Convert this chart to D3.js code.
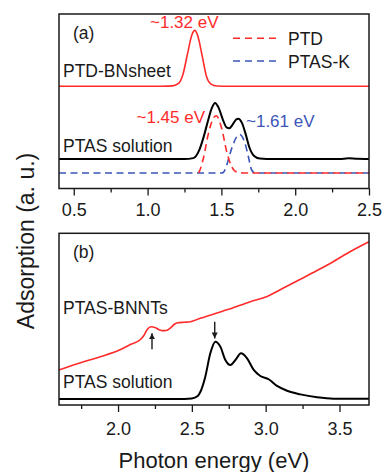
<!DOCTYPE html>
<html>
<head>
<meta charset="utf-8">
<script src="https://cdnjs.cloudflare.com/ajax/libs/d3/7.8.5/d3.min.js"></script>
<style>
  body { margin: 0; background: #fff; }
  svg { font-family: "Liberation Sans", Arial, Helvetica, sans-serif; }
</style>
</head>
<body>
<div id="chart"></div>
<script>
// ---- panel (a): photon energy (eV) vs absorption (a.u., offset traces)
var ptdBNsheet = [[0.4,0.586],[1.10,0.586],[1.17,0.588],[1.21,0.602],[1.24,0.655],[1.27,0.77],[1.30,0.88],
  [1.32,0.906],[1.34,0.875],[1.37,0.76],[1.40,0.64],[1.43,0.598],[1.47,0.587],[1.55,0.586],[2.5,0.586]];
var ptasSolutionA = [[0.4,0.169],[1.25,0.169],[1.31,0.174],[1.35,0.22],[1.378,0.29],[1.41,0.39],[1.435,0.46],
  [1.457,0.49],[1.48,0.465],[1.51,0.395],[1.535,0.35],[1.554,0.345],[1.575,0.365],[1.60,0.395],[1.615,0.40],
  [1.64,0.375],[1.665,0.31],[1.69,0.235],[1.72,0.188],[1.76,0.172],[1.85,0.169],[2.30,0.169],[2.36,0.173],
  [2.42,0.17],[2.5,0.169]];
var ptdFit = [[1.345,0.089],[1.355,0.106],[1.378,0.173],[1.41,0.307],[1.445,0.402],[1.465,0.417],[1.502,0.345],
  [1.536,0.211],[1.57,0.125],[1.604,0.094],[1.65,0.089],[2.5,0.089]];
var ptasKFit = [[0.4,0.089],[1.50,0.089],[1.513,0.092],[1.536,0.135],[1.57,0.23],[1.604,0.297],[1.622,0.31],
  [1.66,0.259],[1.683,0.182],[1.705,0.106],[1.728,0.089],[2.5,0.089]];
var ticksA = [0.5, 1.0, 1.5, 2.0, 2.5];
var minorTicksA = [0.75, 1.25, 1.75, 2.25];

// ---- panel (b)
var ptasBNNTs = [[1.60,0.204],[1.767,0.252],[1.88,0.281],[2.01,0.320],[2.083,0.352],[2.15,0.38],[2.175,0.405],
  [2.198,0.44],[2.223,0.456],[2.25,0.452],[2.275,0.44],[2.30,0.433],[2.325,0.434],[2.354,0.448],[2.38,0.469],
  [2.404,0.479],[2.45,0.482],[2.49,0.485],[2.557,0.505],[2.664,0.534],[2.749,0.557],[2.896,0.602],[3.01,0.632],
  [3.12,0.681],[3.235,0.732],[3.348,0.783],[3.46,0.836],[3.574,0.894],[3.70,0.951]];
var ptasSolutionB = [[1.60,0.035],[2.40,0.035],[2.50,0.038],[2.54,0.052],[2.558,0.077],[2.591,0.165],[2.625,0.301],
  [2.659,0.369],[2.693,0.34],[2.727,0.262],[2.761,0.233],[2.795,0.262],[2.833,0.301],[2.874,0.272],[2.919,0.204],
  [2.964,0.169],[3.02,0.15],[3.077,0.111],[3.145,0.083],[3.235,0.062],[3.348,0.045],[3.46,0.037],[3.70,0.037]];
var ticksB = [2.0, 2.5, 3.0, 3.5];
var minorTicksB = [1.75, 2.25, 2.75, 3.25];
var arrowsB = [[2.23, 0.324, 0.418], [2.655, 0.485, 0.388]];

var width = 383, height = 472;
var red = "#ff2b2b", blue = "#3b55b8", ink = "#1a1a1a";

var svg = d3.select("#chart").append("svg")
  .attr("width", width)
  .attr("height", height);

var defs = svg.append("defs");
defs.append("marker")
  .attr("id", "head")
  .attr("viewBox", "0 0 10 10")
  .attr("refX", 10).attr("refY", 5)
  .attr("markerWidth", 6).attr("markerHeight", 7)
  .attr("markerUnits", "userSpaceOnUse")
  .attr("orient", "auto")
  .append("path")
  .attr("d", "M0,0L10,5L0,10z")
  .attr("fill", ink);

function panel(opts) {
  var x = d3.scaleLinear().domain(opts.xDomain).range([59, 369]);
  var y = d3.scaleLinear().domain([0, 1]).range([opts.bottom, opts.top]);
  var g = svg.append("g");

  var line = d3.line()
    .x(function(d) { return x(d[0]); })
    .y(function(d) { return y(d[1]); })
    .curve(d3.curveMonotoneX);

  opts.series.forEach(function(s) {
    g.append("path")
      .datum(s.data)
      .attr("fill", "none")
      .attr("stroke", s.color)
      .attr("stroke-width", s.width)
      .attr("stroke-dasharray", s.dash || null)
      .attr("d", line);
  });

  // minor + major ticks
  g.append("g")
    .attr("transform", "translate(0," + opts.bottom + ")")
    .call(d3.axisBottom(x).tickValues(opts.minor).tickSize(4).tickFormat(""))
    .call(function(a) { a.select(".domain").remove(); a.selectAll("line").attr("stroke", ink).attr("stroke-width", 1.3); });
  g.append("g")
    .attr("transform", "translate(0," + opts.bottom + ")")
    .call(d3.axisBottom(x).tickValues(opts.ticks).tickSize(7).tickPadding(opts.pad).tickFormat(d3.format(".1f")))
    .call(function(a) {
      a.select(".domain").remove();
      a.selectAll("line").attr("stroke", ink).attr("stroke-width", 1.3);
      a.selectAll("text").attr("fill", ink).style("font-size", "18px").style("font-family", "inherit");
    });

  g.append("rect")
    .attr("x", 59).attr("y", opts.top)
    .attr("width", 310).attr("height", opts.bottom - opts.top)
    .attr("fill", "none")
    .attr("stroke", ink)
    .attr("stroke-width", 1.5);

  return { g: g, x: x, y: y };
}

var a = panel({
  xDomain: [0.4, 2.5], top: 14, bottom: 188.5, pad: 8,
  ticks: ticksA, minor: minorTicksA,
  series: [
    { data: ptasKFit, color: blue, width: 1.6, dash: "7,4.5" },
    { data: ptdFit, color: red, width: 1.6, dash: "7,4.5" },
    { data: ptasSolutionA, color: "#000", width: 2 },
    { data: ptdBNsheet, color: red, width: 1.6 }
  ]
});

function label(g, txt, xp, yp, color, size) {
  g.append("text")
    .attr("x", xp).attr("y", yp)
    .attr("fill", color || ink)
    .style("font-size", (size || 17.5) + "px")
    .text(txt);
}

label(a.g, "(a)", 73, 38.5);
label(a.g, "PTD-BNsheet", 63, 77.3);
label(a.g, "~1.32 eV", 150, 28.3, red, 17);
label(a.g, "PTAS solution", 63, 151.7);
label(a.g, "~1.45 eV", 136.5, 123.3, red, 17);
label(a.g, "~1.61 eV", 246, 126.7, blue, 17);

// legend
var legend = [["PTD", red, 38.3], ["PTAS-K", blue, 61]];
legend.forEach(function(l) {
  a.g.append("line")
    .attr("x1", 233).attr("x2", 280)
    .attr("y1", l[2]).attr("y2", l[2])
    .attr("stroke", l[1]).attr("stroke-width", 1.6)
    .attr("stroke-dasharray", "7,5");
  label(a.g, l[0], 288, l[2] + 6.5, ink, 17.5);
});

var b = panel({
  xDomain: [1.6, 3.7], top: 233.3, bottom: 405, pad: 10,
  ticks: ticksB, minor: minorTicksB,
  series: [
    { data: ptasSolutionB, color: "#000", width: 2 },
    { data: ptasBNNTs, color: red, width: 1.6 }
  ]
});

label(b.g, "(b)", 73, 258.3);
label(b.g, "PTAS-BNNTs", 63, 314.3);
label(b.g, "PTAS solution", 63, 388.3);

b.g.selectAll(".arrow")
  .data(arrowsB)
  .enter()
  .append("line")
  .attr("class", "arrow")
  .attr("x1", function(d) { return b.x(d[0]); })
  .attr("x2", function(d) { return b.x(d[0]); })
  .attr("y1", function(d) { return b.y(d[1]); })
  .attr("y2", function(d) { return b.y(d[2]); })
  .attr("stroke", ink)
  .attr("stroke-width", 1.4)
  .attr("marker-end", "url(#head)");

// axis titles
svg.append("text")
  .attr("x", 214).attr("y", 468)
  .attr("text-anchor", "middle")
  .attr("fill", ink)
  .style("font-size", "22px")
  .text("Photon energy (eV)");

svg.append("text")
  .attr("transform", "translate(34,241) rotate(-90)")
  .attr("text-anchor", "middle")
  .attr("fill", ink)
  .style("font-size", "23px")
  .text("Adsorption (a. u.)");
</script>
</body>
</html>
